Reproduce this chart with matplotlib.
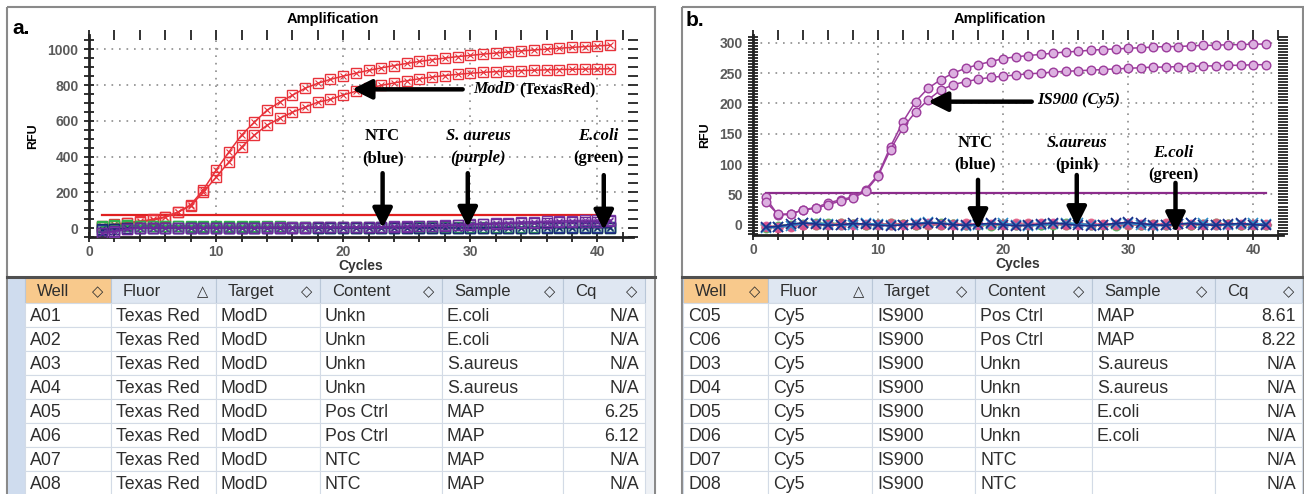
import matplotlib
matplotlib.use("Agg")
import matplotlib.pyplot as plt
from matplotlib.patches import Rectangle
from matplotlib.ticker import MultipleLocator

# ---------------- data ----------------
cycles = list(range(1, 42))

# panel a: ModD (Texas Red)
moda_pos1 = [10, 22, 30, 38, 48, 63, 90, 130, 215, 324, 425, 520, 592, 659, 704, 743, 782, 810, 832,
             850, 867, 882, 896, 909, 921, 932, 942, 951, 959, 966, 973, 979, 985, 991, 996, 1001, 1006,
             1011, 1015, 1019, 1023]
moda_pos2 = [6, 15, 26, 34, 44, 60, 88, 126, 200, 285, 369, 453, 520, 575, 614, 648, 676, 704, 720,
             745, 765, 782, 798, 812, 824, 835, 845, 853, 860, 866, 871, 875, 878, 881, 883, 885, 887,
             888, 889, 890, 891]
moda_saur1 = [-30, -22, -6, 0, 2, 3, 3, 3, 3, 3, 3, 3, 3, 4, 4, 4, 4, 5, 5, 6, 6, 7, 8, 9, 10, 12,
              14, 16, 19, 22, 25, 28, 31, 34, 36, 38, 40, 42, 43, 44, 45]
moda_saur2 = [-25, -18, -4, 0, 1, 2, 2, 2, 2, 2, 2, 2, 3, 3, 3, 3, 3, 4, 4, 4, 5, 5, 6, 7, 8, 9,
              11, 13, 15, 18, 20, 23, 25, 27, 29, 31, 33, 34, 35, 36, 37]
moda_ecoli1 = [14, 15, 15, 14, 14, 13, 13, 12, 12, 11, 11, 10, 10, 9, 9, 8, 8, 7, 7, 6, 6, 6, 5, 5, 5,
               5, 5, 5, 5, 5, 5, 5, 5, 6, 6, 6, 6, 7, 7, 7, 8]
moda_ecoli2 = [8, 10, 11, 10, 10, 9, 9, 8, 8, 7, 7, 6, 6, 5, 5, 4, 4, 3, 3, 3, 2, 2, 2, 2, 1, 1, 1,
               1, 1, 1, 1, 1, 1, 1, 2, 2, 2, 2, 3, 3, 3]
moda_ntc1 = [-12, -8, -2, 1, 2, 2, 2, 2, 2, 2, 2, 2, 2, 2, 2, 2, 2, 2, 2, 2, 2, 2, 2, 2, 2, 2, 2, 2,
             2, 3, 3, 3, 3, 3, 3, 4, 4, 4, 4, 5, 5]
moda_ntc2 = [-6, -4, 0, 1, 1, 1, 1, 1, 1, 1, 1, 1, 1, 1, 1, 1, 1, 1, 1, 1, 1, 1, 1, 1, 1, 1, 1, 1,
             1, 1, 1, 1, 2, 2, 2, 2, 2, 2, 2, 2, 2]
moda_threshold = 73

# panel b: IS900 (Cy5)
is900_pos1 = [45, 16, 17, 25, 28, 36, 41, 46, 58, 82, 129, 170, 203, 225, 239, 250, 258, 264, 269,
              274, 277, 279, 281, 283, 285, 286, 288, 289, 290, 291, 292, 293, 294, 294, 295, 296, 296,
              297, 297, 298, 298]
is900_pos2 = [38, 17, 18, 24, 27, 33, 39, 44, 55, 80, 124, 160, 186, 206, 222, 231, 236, 240, 243,
              245, 247, 249, 250, 252, 253, 254, 255, 256, 257, 258, 259, 260, 260, 261, 261, 262, 262,
              263, 263, 264, 264]
is900_saur1 = [-4, -5, -3, -1, 0, 1, 2, 1, 0, 1, 2, 1, 0, -1, 0, 1, 2, 1, 0, 1, 2, 3, 2, 1, 0, 1, 2,
               1, 0, -1, 0, 1, 2, 1, 0, 1, 2, 1, 0, 1, 1]
is900_saur2 = [-2, -3, -2, 0, 1, 0, -1, 0, 1, 0, -1, 0, 1, 2, 1, 0, -1, 0, 1, 0, -1, 0, 1, 2, 1, 0,
               -1, 0, 1, 2, 1, 0, -1, 0, 1, 0, -1, 0, 1, 0, 0]
is900_ecoli1 = [-3, -2, 0, 1, 2, 3, 2, 1, 0, 1, 2, 1, 0, 1, 2, 1, 0, -1, 0, 1, 0, -1, 0, 1, 2, 1, 0,
                -1, -2, -1, 0, 1, 0, -1, 0, 1, 2, 1, 0, -1, 0]
is900_ecoli2 = [-5, -4, -2, -1, 0, -1, 0, 1, 0, -1, 0, 1, 0, -1, 0, 1, 0, -1, -2, -1, 0, 1, 0, -1,
                0, 1, 0, -1, 0, 1, 0, -1, 0, 1, 0, -1, 0, 1, 0, -1, -1]
is900_ntc1 = [-6, -4, -2, 2, 3, 1, -1, 0, 2, 1, -1, 0, 2, 4, 3, 1, -2, -1, 1, 2, 0, -2, -1, 1, 3, 2,
              0, -1, 1, 2, 0, -2, -1, 1, 3, 2, 0, -1, 1, 2, 1]
is900_ntc2 = [-4, -3, 1, 3, 1, -1, 0, 2, 1, -1, -2, 0, 1, 3, 2, 0, -1, 1, 2, 0, -2, -1, 1, 3, 1, -1,
              -2, 0, 2, 4, 2, 0, -1, 1, 2, 0, -1, 1, 2, 0, -1]
is900_threshold = 53

# tables
header_cols = ["Well", "Fluor", "Target", "Content", "Sample", "Cq"]
header_syms = ["\u25C7", "\u25B3", "\u25C7", "\u25C7", "\u25C7", "\u25C7"]

wells_a = ["A01", "A02", "A03", "A04", "A05", "A06", "A07", "A08"]
fluor_a = ["Texas Red", "Texas Red", "Texas Red", "Texas Red", "Texas Red", "Texas Red", "Texas Red", "Texas Red"]
target_a = ["ModD", "ModD", "ModD", "ModD", "ModD", "ModD", "ModD", "ModD"]
content_a = ["Unkn", "Unkn", "Unkn", "Unkn", "Pos Ctrl", "Pos Ctrl", "NTC", "NTC"]
sample_a = ["E.coli", "E.coli", "S.aureus", "S.aureus", "MAP", "MAP", "MAP", "MAP"]
cq_a = ["N/A", "N/A", "N/A", "N/A", "6.25", "6.12", "N/A", "N/A"]

wells_b = ["C05", "C06", "D03", "D04", "D05", "D06", "D07", "D08"]
fluor_b = ["Cy5", "Cy5", "Cy5", "Cy5", "Cy5", "Cy5", "Cy5", "Cy5"]
target_b = ["IS900", "IS900", "IS900", "IS900", "IS900", "IS900", "IS900", "IS900"]
content_b = ["Pos Ctrl", "Pos Ctrl", "Unkn", "Unkn", "Unkn", "Unkn", "NTC", "NTC"]
sample_b = ["MAP", "MAP", "S.aureus", "S.aureus", "E.coli", "E.coli", "", ""]
cq_b = ["8.61", "8.22", "N/A", "N/A", "N/A", "N/A", "N/A", "N/A"]

# ---------------- figure ----------------
W, H = 1304, 494
fig = plt.figure(figsize=(W / 100, H / 100), dpi=100)
fig.patch.set_facecolor("white")

bg = fig.add_axes([0, 0, 1, 1], zorder=0)
bg.set_xlim(0, W)
bg.set_ylim(H, 0)
bg.axis("off")

SANS = ["Liberation Sans", "DejaVu Sans"]
SERIF = ["Liberation Serif", "DejaVu Serif"]
TXT = "#2e2e2e"

# panel frames
for (x0, x1) in [(7, 655), (682, 1303)]:
    bg.add_patch(Rectangle((x0, 7), x1 - x0, 520, fill=False, ec="#8a8a8a", lw=1.5, zorder=1))
    bg.plot([x0, x1], [277, 277], color="#505050", lw=2.2, zorder=3)

bg.text(12, 28, "a.", fontsize=15, fontweight="bold", family=SANS, va="center", ha="left")
bg.text(686, 20, "b.", fontsize=15, fontweight="bold", family=SANS, va="center", ha="left")


def draw_table(col_edges, rows, strip=None, scroll=None):
    top, hh, rh = 278, 25, 24
    if strip is not None:
        bg.add_patch(Rectangle((strip[0], top), strip[1] - strip[0], 260, fc="#cfdcee", ec="none", zorder=1))
    if scroll is not None:
        bg.add_patch(Rectangle((scroll[0], top), scroll[1] - scroll[0], 260, fc="#eef1f5", ec="none", zorder=1))
    # header
    for i, (name, sym) in enumerate(zip(header_cols, header_syms)):
        c0, c1 = col_edges[i], col_edges[i + 1]
        fc = "#f8c98c" if i == 0 else "#dfe7f2"
        bg.add_patch(Rectangle((c0, top), c1 - c0, hh, fc=fc, ec="#b9c7d8", lw=0.8, zorder=2))
        bg.text(c0 + 12, top + hh / 2 + 1, name, fontsize=12, family=SANS, color=TXT, va="center", ha="left", zorder=4)
        bg.text(c1 - 8, top + hh / 2 + 1, sym, fontsize=10.5, family=["DejaVu Sans"], color=TXT, va="center", ha="right", zorder=4)
    # rows
    y = top + hh
    for r in range(len(rows[0])):
        for i in range(6):
            c0, c1 = col_edges[i], col_edges[i + 1]
            bg.add_patch(Rectangle((c0, y), c1 - c0, rh, fc="white", ec="#d3dbe6", lw=0.8, zorder=2))
            val = rows[i][r]
            if i == 5:
                bg.text(c1 - 6, y + rh / 2 + 1, val, fontsize=12.8, family=SANS, color=TXT, va="center", ha="right", zorder=4)
            else:
                bg.text(c0 + 5, y + rh / 2 + 1, val, fontsize=12.8, family=SANS, color=TXT, va="center", ha="left", zorder=4)
        y += rh


draw_table([25, 111, 216, 320, 442, 563, 645],
           [wells_a, fluor_a, target_a, content_a, sample_a, cq_a], strip=(8, 25), scroll=(645, 654))
draw_table([683, 768, 872, 975, 1092, 1215, 1302],
           [wells_b, fluor_b, target_b, content_b, sample_b, cq_b])


# ---------------- chart axes ----------------
def px_axes(x0, y0, x1, y1):
    return fig.add_axes([x0 / W, 1 - y1 / H, (x1 - x0) / W, (y1 - y0) / H], zorder=5)


def style_axes(ax, ymaj, ymin, xlim, ylim):
    ax.set_xlim(*xlim)
    ax.set_ylim(*ylim)
    ax.set_facecolor("none")
    for s in ["top", "right"]:
        ax.spines[s].set_visible(False)
    for s in ["left", "bottom"]:
        ax.spines[s].set_linewidth(2.0)
        ax.spines[s].set_color("#222222")
    ax.xaxis.set_major_locator(MultipleLocator(10))
    ax.xaxis.set_minor_locator(MultipleLocator(2))
    ax.yaxis.set_major_locator(MultipleLocator(ymaj))
    ax.yaxis.set_minor_locator(MultipleLocator(ymin))
    ax.tick_params(which="both", direction="inout", length=7, width=1.3, color="#222222")
    ax.tick_params(which="both", top=True, right=True)
    ax.tick_params(axis="x", labelsize=10, labelcolor="#5a5a5a", pad=2)
    ax.tick_params(axis="y", labelsize=10, labelcolor="#5a5a5a", pad=4)
    for lab in ax.get_xticklabels() + ax.get_yticklabels():
        lab.set_fontweight("bold")
        lab.set_family(SANS)
    ax.grid(True, which="major", color="#8c8c8c", linestyle=(0, (1, 3.5)), lw=1.2)
    ax.set_axisbelow(True)
    ax.set_ylabel("RFU", fontsize=9, fontweight="bold", family=SANS, labelpad=6)
    ax.set_xlabel("Cycles", fontsize=10, fontweight="bold", family=SANS, color="#333333", labelpad=0)


# ---- panel a ----
axa = px_axes(89, 35, 633, 237)
style_axes(axa, 200, 50, (0, 42.8), (-50, 1080))

RED = "#e8323a"
for yv in [moda_pos1, moda_pos2]:
    axa.plot(cycles, yv, color=RED, lw=1.1, marker="s", ms=6.5, mfc="none", mec=RED, mew=1.0, zorder=6)
    axa.plot(cycles, yv, color=RED, lw=0, marker="x", ms=5, mew=0.8, zorder=6)
low_a = [(moda_ecoli1, "#2fb34a"), (moda_ecoli2, "#2fb34a"), (moda_ntc1, "#243a9a"),
         (moda_ntc2, "#1b2a70"), (moda_saur1, "#7a3aa8"), (moda_saur2, "#6a2a98")]
for yv, c in low_a:
    axa.plot(cycles, yv, color=c, lw=1.1, marker="s", ms=6.5, mfc="none", mec=c, mew=1.0, zorder=6)
    axa.plot(cycles, yv, color=c, lw=0, marker="x", ms=5, mew=0.8, zorder=6)
axa.plot([cycles[0], cycles[-1]], [moda_threshold, moda_threshold], color="#e02020", lw=1.6, zorder=5)

# annotations panel a
AP = dict(arrowstyle="-|>,head_width=0.45,head_length=0.9", lw=3.2, color="black", mutation_scale=13,
          shrinkA=0, shrinkB=0)
axa.annotate("", xy=(20.7, 776), xytext=(29.4, 776), arrowprops=AP, zorder=8)
t1 = axa.text(30.2, 776, "ModD", fontsize=11.5, fontweight="bold", style="italic", family=SERIF,
              va="center", ha="left", zorder=8)
axa.annotate("(TexasRed)", xy=(1, 0.5), xycoords=t1, xytext=(3, 0), textcoords="offset points",
             fontsize=11.5, fontweight="bold", family=SERIF, va="center", ha="left", zorder=8)

for x, top_lbl, top_it, bot_lbl, bot_it in [
        (23.1, "NTC", False, "(blue)", False),
        (30.6, "S. aureus", True, "(purple)", True),
        (40.1, "E.coli", True, "(green)", False)]:
    axa.text(x, 514, top_lbl, fontsize=12, fontweight="bold", family=SERIF, style="italic" if top_it else "normal",
             ha="center", va="center", zorder=8)
    axa.text(x, 391, bot_lbl, fontsize=12, fontweight="bold", family=SERIF, style="italic" if bot_it else "normal",
             ha="center", va="center", zorder=8)
axa.annotate("", xy=(23.1, 0), xytext=(23.1, 307), arrowprops=AP, zorder=8)
axa.annotate("", xy=(29.8, 5), xytext=(29.8, 307), arrowprops=AP, zorder=8)
axa.annotate("", xy=(40.5, -11), xytext=(40.5, 296), arrowprops=AP, zorder=8)

# ---- panel b ----
axb = px_axes(753, 35, 1283, 235)
style_axes(axb, 50, 5, (0, 42.4), (-17, 313))

PUR = "#9c3c9c"
for yv in [is900_pos1, is900_pos2]:
    axb.plot(cycles, yv, color=PUR, lw=1.1, marker="o", ms=6.2, mfc="#dcb0e0", mec=PUR, mew=1.0, zorder=6)
low_b = [(is900_ecoli1, "o", "#3cb44b"), (is900_ecoli2, "o", "#3cb44b"),
         (is900_saur1, "o", "#e0507a"), (is900_saur2, "o", "#d94f9a"),
         (is900_ntc1, "x", "#2f8fc8"), (is900_ntc2, "x", "#1c2f8a")]
for yv, m, c in low_b:
    if m == "o":
        axb.plot(cycles, yv, color=c, lw=1.0, marker="o", ms=6.2, mfc=c, mec=c, alpha=0.75, zorder=6)
    else:
        axb.plot(cycles, yv, color=c, lw=1.2, marker="x", ms=7, mew=1.2, zorder=7)
axb.plot([cycles[0], cycles[-1]], [is900_threshold, is900_threshold], color="#8b2c8b", lw=1.6, zorder=5)

axb.annotate("", xy=(14.0, 203), xytext=(22.3, 203), arrowprops=AP, zorder=8)
axb.text(22.7, 205, "IS900 (Cy5)", fontsize=12, fontweight="bold", style="italic", family=SERIF,
         va="center", ha="left", zorder=8)
for x, top_lbl, top_it, bot_lbl, ytop, ybot in [
        (17.8, "NTC", False, "(blue)", 135, 99),
        (25.9, "S.aureus", True, "(pink)", 135, 99),
        (33.6, "E.coli", True, "(green)", 119, 82)]:
    axb.text(x, ytop, top_lbl, fontsize=12, fontweight="bold", family=SERIF, style="italic" if top_it else "normal",
             ha="center", va="center", zorder=8)
    axb.text(x, ybot, bot_lbl, fontsize=12, fontweight="bold", family=SERIF, ha="center", va="center", zorder=8)
axb.annotate("", xy=(18.0, -8), xytext=(18.0, 74), arrowprops=AP, zorder=8)
axb.annotate("", xy=(25.9, -3), xytext=(25.9, 82), arrowprops=AP, zorder=8)
axb.annotate("", xy=(33.8, -13), xytext=(33.8, 69), arrowprops=AP, zorder=8)

# titles
bg.text(333, 19, "Amplification", fontsize=10.5, fontweight="bold", family=SANS, ha="center", va="center", zorder=4)
bg.text(1000, 19, "Amplification", fontsize=10.5, fontweight="bold", family=SANS, ha="center", va="center", zorder=4)

fig.savefig("out.png", dpi=100, facecolor="white")
